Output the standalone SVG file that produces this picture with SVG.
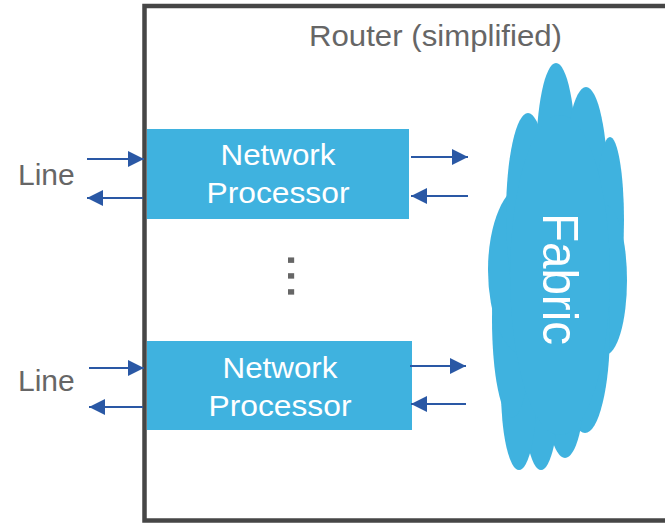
<svg xmlns="http://www.w3.org/2000/svg" width="665" height="523" viewBox="0 0 665 523">
  <defs>
    <marker id="arrow" viewBox="0 0 16 16" refX="16" refY="8" markerWidth="16" markerHeight="16" markerUnits="userSpaceOnUse" orient="auto">
      <path d="M0,0 L16,8 L0,16 Z" fill="#2a58a5"/>
    </marker>
  </defs>
  <style>
    .frame { fill: #ffffff; stroke: #464646; stroke-width: 4.5; }
    .np { fill: #3fb2df; }
    .np-label { font-family: "Liberation Sans", Arial, sans-serif; font-size: 29.5px; fill: #ffffff; text-anchor: middle; }
    .grey { font-family: "Liberation Sans", Arial, sans-serif; fill: #666666; }
    .link { stroke: #2a58a5; stroke-width: 2; fill: none; marker-end: url(#arrow); }
    .cloud { fill: #3fb2df; }
  </style>

  <rect width="665" height="523" fill="#ffffff"/>

  <!-- router enclosure -->
  <g id="router">
    <rect class="frame" x="144.5" y="6" width="540" height="514.5"/>
    <text class="grey" x="309" y="46" font-size="29.5" textLength="253" lengthAdjust="spacingAndGlyphs">Router (simplified)</text>
  </g>

  <!-- switching fabric cloud -->
  <g id="fabric">
    <g class="cloud">
      <ellipse cx="556" cy="160" rx="20" ry="97"/>
      <ellipse cx="586" cy="190" rx="22" ry="103"/>
      <ellipse cx="610" cy="220" rx="14" ry="83"/>
      <ellipse cx="605" cy="280" rx="22" ry="75"/>
      <ellipse cx="585" cy="330" rx="25" ry="103"/>
      <ellipse cx="565" cy="380" rx="20" ry="78"/>
      <ellipse cx="541" cy="390" rx="18" ry="80"/>
      <ellipse cx="519" cy="390" rx="18" ry="80"/>
      <ellipse cx="512" cy="320" rx="20" ry="98"/>
      <ellipse cx="525" cy="270" rx="37" ry="85"/>
      <ellipse cx="528" cy="215" rx="22" ry="102"/>
      <ellipse cx="560" cy="275" rx="50" ry="160"/>
    </g>
    <text transform="translate(543,279) rotate(90)" x="0" y="0" font-family="'Liberation Sans', Arial, sans-serif" font-size="50" fill="#ffffff" text-anchor="middle" textLength="132" lengthAdjust="spacingAndGlyphs">Fabric</text>
  </g>

  <!-- network processors -->
  <g id="np1">
    <rect class="np" x="147" y="129" width="262" height="90"/>
    <text class="np-label" x="278" y="165" textLength="115" lengthAdjust="spacingAndGlyphs">Network</text>
    <text class="np-label" x="278" y="203" textLength="143" lengthAdjust="spacingAndGlyphs">Processor</text>
  </g>
  <g id="np2">
    <rect class="np" x="147" y="341" width="265" height="89"/>
    <text class="np-label" x="280" y="378" textLength="115" lengthAdjust="spacingAndGlyphs">Network</text>
    <text class="np-label" x="280" y="416" textLength="143" lengthAdjust="spacingAndGlyphs">Processor</text>
  </g>

  <!-- line labels -->
  <g id="line1">
    <text class="grey" x="18" y="185" font-size="30">Line</text>
  </g>
  <g id="line2">
    <text class="grey" x="18" y="391" font-size="30">Line</text>
  </g>

  <!-- vertical ellipsis between processors -->
  <g id="ellipsis">
    <text transform="translate(288,276) rotate(90)" x="0" y="0" font-family="'Liberation Sans', Arial, sans-serif" font-size="57" fill="#666666" text-anchor="middle">...</text>
  </g>

  <!-- connectors -->
  <g id="connectors">
    <line class="link" x1="87" y1="159" x2="144" y2="159"/>
    <line class="link" x1="143" y1="198" x2="87" y2="198"/>
    <line class="link" x1="89" y1="368" x2="144" y2="368"/>
    <line class="link" x1="143" y1="407" x2="89" y2="407"/>
    <line class="link" x1="411" y1="157" x2="468" y2="157"/>
    <line class="link" x1="468" y1="196" x2="411" y2="196"/>
    <line class="link" x1="410" y1="366" x2="466" y2="366"/>
    <line class="link" x1="466" y1="404" x2="411" y2="404"/>
  </g>
</svg>
